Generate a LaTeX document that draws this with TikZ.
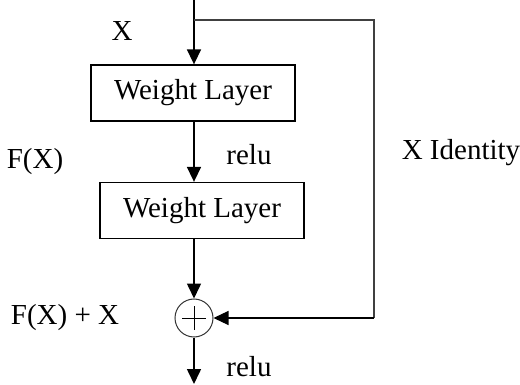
\documentclass[tikz,border=0pt]{standalone}
\usepackage{fontspec}
\setmainfont{Liberation Serif}
\usetikzlibrary{arrows.meta}
\begin{document}
\begin{tikzpicture}[x=1pt,y=-1pt,
  every node/.style={font=\fontsize{29}{31}\selectfont, inner sep=0pt},
  layerbox/.style={draw, line width=1.3pt, minimum width=204pt, minimum height=56pt},
  mainline/.style={line width=1.6pt, -{Triangle[length=15pt,width=14pt]}},
  skipline/.style={line width=1.2pt, draw=black!75},
  lbl/.style={anchor=center}]
\useasboundingbox (0,0) rectangle (520,385);
\coordinate (in) at (194,0);
\coordinate (split) at (194,20);
\coordinate (c1) at (374,20);
\coordinate (out) at (194,384);
\node[layerbox] (b1) at (193,93) {Weight Layer};
\node[layerbox] (b2) at (202,210.5) {Weight Layer};
\node[draw, circle, line width=1pt, draw=black!80, minimum size=38pt] (sum) at (194,318) {};
\draw[line width=0.8pt] ([xshift=-12pt]sum.center) -- ([xshift=12pt]sum.center);
\draw[line width=0.8pt] ([yshift=-12pt]sum.center) -- ([yshift=12pt]sum.center);
\coordinate (c2) at (374,318);
\draw[mainline] (in) -- (in |- b1.north);
\draw[mainline] (in |- b1.south) -- (in |- b2.north);
\draw[mainline] (in |- b2.south) -- (sum.north);
\draw[mainline] (sum.south) -- (out);
\draw[skipline] (split) -- (c1) -- (c2);
\draw[mainline, line width=1.2pt] (c2) -- (sum.east);
\node[lbl] (lx) at (122,31) {X};
\node[lbl] (lr1) at (249,155) {relu};
\node[lbl] (lf) at (35,162) {F(X)};
\node[lbl] (lid) at (461,153) {X Identity};
\node[lbl] (lfx) at (65,318) {F(X) + X};
\node[lbl] (lr2) at (249,367) {relu};
\end{tikzpicture}
\end{document}
